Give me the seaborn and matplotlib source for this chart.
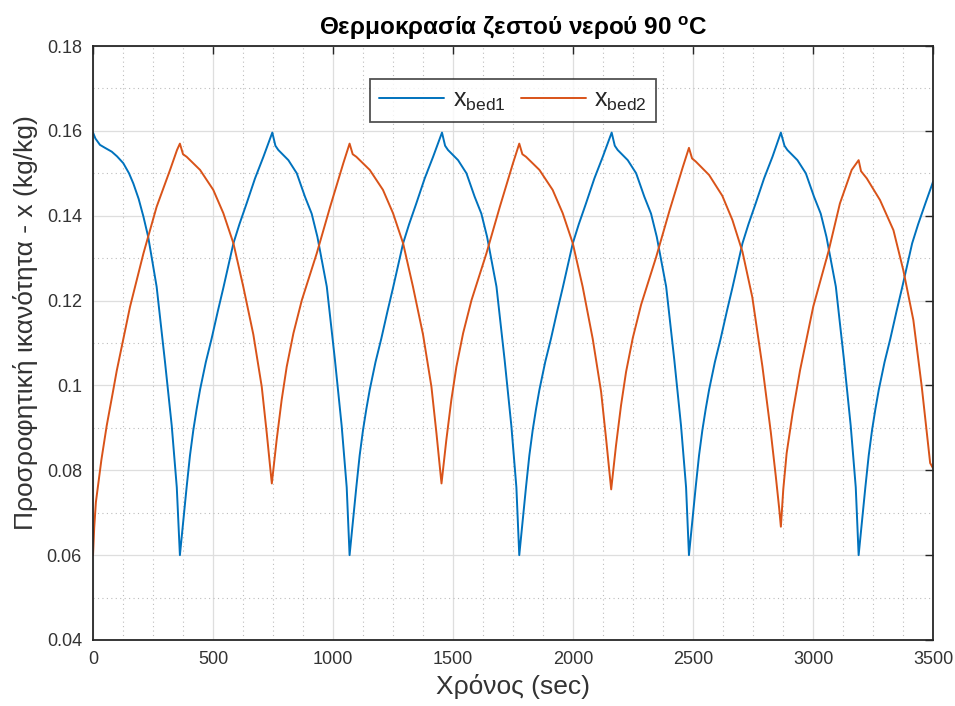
import matplotlib
matplotlib.use("Agg")
import matplotlib.pyplot as plt
from matplotlib import font_manager
from matplotlib.ticker import MultipleLocator
import seaborn as sns
import pandas as pd

# ---------------- data ----------------
t_bed1 = [0, 10, 29, 50, 78, 100, 126, 150, 168, 190, 210, 230, 265, 300, 328, 349, 362,
          374, 390, 404, 418, 432, 446, 470, 494, 520, 543, 585, 610, 640, 675, 710, 747,
          760, 772, 814, 849, 883, 911, 935, 974, 1008, 1036, 1057, 1069,
          1081, 1097, 1111, 1125, 1139, 1153, 1177, 1201, 1227, 1250, 1292, 1317, 1347, 1382, 1417, 1454,
          1467, 1479, 1521, 1556, 1590, 1618, 1642, 1681, 1715, 1743, 1764, 1776,
          1788, 1804, 1818, 1832, 1846, 1860, 1884, 1908, 1934, 1957, 1999, 2024, 2054, 2089, 2124, 2161,
          2174, 2186, 2228, 2263, 2297, 2325, 2349, 2388, 2422, 2450, 2471, 2483,
          2495, 2511, 2525, 2539, 2553, 2567, 2591, 2615, 2641, 2664, 2706, 2731, 2761, 2796, 2831, 2866,
          2881, 2893, 2935, 2970, 3004, 3032, 3056, 3095, 3129, 3157, 3178, 3190,
          3202, 3218, 3232, 3246, 3260, 3274, 3298, 3322, 3348, 3371, 3413, 3438, 3468, 3500]
x_bed1 = [0.1596, 0.1582, 0.1567, 0.1560, 0.1551, 0.1540, 0.1524, 0.1500, 0.1476, 0.1440, 0.1398, 0.1350, 0.1233, 0.1055, 0.0905, 0.0760, 0.0600,
          0.0668, 0.0760, 0.0835, 0.0895, 0.0945, 0.0990, 0.1055, 0.1110, 0.1175, 0.1230, 0.1335, 0.1380, 0.1429, 0.1488, 0.1539, 0.1596,
          0.1565, 0.1555, 0.1531, 0.1500, 0.1445, 0.1405, 0.1350, 0.1233, 0.1060, 0.0905, 0.0760, 0.0600,
          0.0668, 0.0760, 0.0835, 0.0895, 0.0945, 0.0990, 0.1055, 0.1110, 0.1175, 0.1230, 0.1335, 0.1380, 0.1429, 0.1488, 0.1539, 0.1596,
          0.1565, 0.1555, 0.1531, 0.1500, 0.1445, 0.1405, 0.1350, 0.1233, 0.1060, 0.0905, 0.0760, 0.0600,
          0.0668, 0.0760, 0.0835, 0.0895, 0.0945, 0.0990, 0.1055, 0.1110, 0.1175, 0.1230, 0.1335, 0.1380, 0.1429, 0.1488, 0.1539, 0.1596,
          0.1565, 0.1555, 0.1531, 0.1500, 0.1445, 0.1405, 0.1350, 0.1233, 0.1060, 0.0905, 0.0760, 0.0600,
          0.0668, 0.0760, 0.0835, 0.0895, 0.0945, 0.0990, 0.1055, 0.1110, 0.1175, 0.1230, 0.1335, 0.1380, 0.1429, 0.1488, 0.1539, 0.1596,
          0.1565, 0.1555, 0.1531, 0.1500, 0.1445, 0.1405, 0.1350, 0.1233, 0.1060, 0.0905, 0.0760, 0.0600,
          0.0668, 0.0760, 0.0835, 0.0895, 0.0945, 0.0990, 0.1055, 0.1110, 0.1175, 0.1230, 0.1335, 0.1380, 0.1429, 0.1480]

t_bed2 = [0, 5, 12, 35, 57, 83, 99, 154, 210, 265, 321, 350, 362,
          375, 390, 446, 501, 543, 585, 626, 668, 703, 724, 738, 745,
          765, 786, 807, 835, 870, 932, 988, 1043, 1069,
          1082, 1097, 1153, 1208, 1250, 1292, 1333, 1375, 1410, 1431, 1445, 1452,
          1472, 1493, 1514, 1542, 1577, 1639, 1695, 1750, 1776,
          1789, 1804, 1860, 1915, 1957, 1999, 2040, 2082, 2117, 2138, 2152, 2159,
          2179, 2200, 2221, 2249, 2284, 2346, 2402, 2457, 2483,
          2496, 2511, 2567, 2622, 2664, 2706, 2747, 2789, 2824, 2845, 2859, 2866,
          2876, 2890, 2915, 2946, 3001, 3064, 3112, 3161, 3190,
          3200, 3224, 3279, 3335, 3376, 3418, 3453, 3488, 3500]
x_bed2 = [0.0600, 0.0665, 0.0725, 0.0825, 0.0905, 0.0985, 0.1035, 0.1185, 0.1311, 0.1421, 0.1508, 0.1555, 0.1570,
          0.1545, 0.1539, 0.1508, 0.1461, 0.1406, 0.1335, 0.1233, 0.1120, 0.0997, 0.0887, 0.0808, 0.0769,
          0.0871, 0.0966, 0.1044, 0.1123, 0.1201, 0.1311, 0.1421, 0.1524, 0.1570,
          0.1545, 0.1539, 0.1508, 0.1461, 0.1406, 0.1335, 0.1233, 0.1120, 0.0997, 0.0887, 0.0808, 0.0769,
          0.0871, 0.0966, 0.1044, 0.1123, 0.1201, 0.1311, 0.1421, 0.1524, 0.1570,
          0.1545, 0.1539, 0.1508, 0.1461, 0.1406, 0.1335, 0.1233, 0.1110, 0.0985, 0.0873, 0.0794, 0.0755,
          0.0858, 0.0953, 0.1032, 0.1112, 0.1191, 0.1302, 0.1412, 0.1514, 0.1560,
          0.1535, 0.1528, 0.1496, 0.1447, 0.1390, 0.1315, 0.1208, 0.1045, 0.0890, 0.0785, 0.0710, 0.0667,
          0.0755, 0.0840, 0.0935, 0.1036, 0.1186, 0.1315, 0.1429, 0.1508, 0.1531,
          0.1505, 0.1488, 0.1437, 0.1366, 0.1272, 0.1154, 0.0997, 0.0817, 0.0805]

series_names = [r"x$_{\mathregular{bed1}}$", r"x$_{\mathregular{bed2}}$"]
series_colors = ["#0072BD", "#D95319"]

x_ticks = [0, 500, 1000, 1500, 2000, 2500, 3000, 3500]
y_ticks = [0.04, 0.06, 0.08, 0.10, 0.12, 0.14, 0.16, 0.18]
y_ticklabels = ["0.04", "0.06", "0.08", "0.1", "0.12", "0.14", "0.16", "0.18"]

title_text = r"Θερμοκρασία ζεστού νερού 90 $^{\mathregular{o}}$C"
xlabel_text = "Χρόνος (sec)"
ylabel_text = "Προσροφητική ικανότητα - x (kg/kg)"

# ---------------- style ----------------
sns.set_style("white")
names = {f.name for f in font_manager.fontManager.ttflist}
fam = "Liberation Sans"
for cand in ["Liberation Sans Narrow", "Arial Narrow", "Nimbus Sans Narrow"]:
    if cand in names:
        fam = cand
        break
plt.rcParams["font.family"] = [fam, "DejaVu Sans"]
plt.rcParams["mathtext.default"] = "regular"

df = pd.concat([
    pd.DataFrame({"t": t_bed1, "x": x_bed1, "s": series_names[0]}),
    pd.DataFrame({"t": t_bed2, "x": x_bed2, "s": series_names[1]}),
], ignore_index=True)

fig = plt.figure(figsize=(9.55, 7.06), dpi=100)
ax = fig.add_axes([0.0974, 0.0935, 0.8796, 0.8413])

sns.lineplot(data=df, x="t", y="x", hue="s", palette=dict(zip(series_names, series_colors)),
             estimator=None, sort=False, linewidth=1.4, ax=ax)

ax.set_xlim(0, 3500)
ax.set_ylim(0.04, 0.18)
ax.set_xticks(x_ticks)
ax.set_xticklabels([str(v) for v in x_ticks])
ax.set_yticks(y_ticks)
ax.set_yticklabels(y_ticklabels)
ax.xaxis.set_minor_locator(MultipleLocator(125))
ax.yaxis.set_minor_locator(MultipleLocator(0.01))

ax.grid(True, which="major", color="#dedede", linestyle="-", linewidth=0.9)
ax.grid(True, which="minor", color="#bdbdbd", linestyle=(0, (1, 3)), linewidth=0.8)
ax.set_axisbelow(True)

for sp in ax.spines.values():
    sp.set_color("#262626")
    sp.set_linewidth(1.3)
ax.tick_params(which="major", direction="in", length=6, width=1.0, color="#262626",
               top=True, right=True, labelsize=13, labelcolor="#333333", pad=8)
ax.tick_params(which="minor", length=0, top=True, right=True)

ax.set_title(title_text, fontsize=17.5, fontweight="bold", color="black", pad=8)
ax.set_xlabel(xlabel_text, fontsize=19, color="#333333", labelpad=4)
ax.set_ylabel(ylabel_text, fontsize=19, color="#333333")
ax.yaxis.set_label_coords(-0.066, 0.535)

leg = ax.legend(loc="upper center", bbox_to_anchor=(0.5, 0.965), ncol=2, fontsize=18,
                frameon=True, fancybox=False, handlelength=2.6, columnspacing=0.6,
                borderpad=0.35, handletextpad=0.35)
leg.get_frame().set_edgecolor("#262626")
leg.get_frame().set_linewidth(1.3)
leg.set_title(None)

fig.savefig("out.png", dpi=100)
